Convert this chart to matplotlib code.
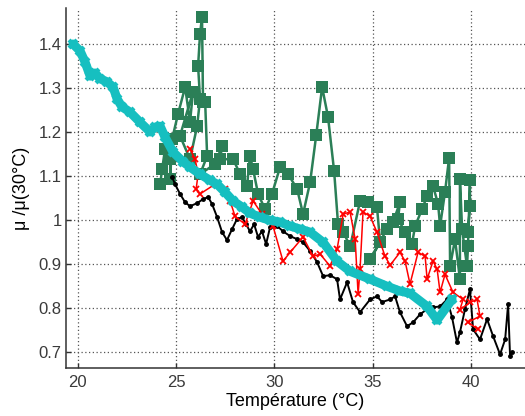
import matplotlib
matplotlib.use("Agg")
import matplotlib.pyplot as plt

plt.rcParams['font.family'] = ['Liberation Sans', 'DejaVu Sans']

# Reference curve (smoothed), μ/μ(30°C) versus temperature
temp_ref = [19.76, 20.12, 20.37, 20.63, 20.88, 21.13, 21.49, 21.80, 22.00, 22.25,
            22.66, 23.17, 23.68, 23.93, 24.19, 24.44, 24.85, 25.36, 25.71, 26.22,
            26.73, 27.09, 27.49, 27.90, 28.36, 28.77, 29.27, 29.78, 30.29, 30.80,
            31.31, 31.82, 32.48, 33.19, 33.85, 34.87, 35.73, 36.39, 36.90, 37.77,
            38.28, 39.04]
mu_ref = [1.400, 1.384, 1.359, 1.327, 1.334, 1.321, 1.314, 1.302, 1.275, 1.257,
          1.245, 1.222, 1.200, 1.211, 1.213, 1.188, 1.154, 1.132, 1.120, 1.104,
          1.090, 1.081, 1.063, 1.043, 1.029, 1.015, 1.006, 0.999, 0.995, 0.986,
          0.979, 0.972, 0.949, 0.906, 0.883, 0.865, 0.849, 0.838, 0.833, 0.803,
          0.772, 0.819]

# Series A (green squares)
temp_a = [24.19, 24.29, 24.44, 24.70, 24.70, 24.80, 25.10, 25.46, 25.71, 25.86,
          25.20, 25.71, 26.07, 26.22, 26.12, 26.22, 26.32, 26.37, 26.48, 26.58,
          26.22, 26.98, 27.34, 27.24, 27.90, 28.26, 28.61, 28.76, 28.92, 29.17,
          29.53, 29.88, 30.29, 30.70, 31.16, 31.46, 31.82, 32.13, 32.43, 32.73,
          33.04, 33.24, 33.50, 33.86, 34.36, 34.77, 35.22, 35.38, 34.87, 35.73,
          36.04, 36.39, 36.29, 36.65, 37.00, 37.16, 37.51, 37.77, 38.07, 38.33,
          38.43, 38.68, 38.89, 38.94, 39.19, 39.44, 39.44, 39.55, 39.80, 39.85,
          39.95, 39.95, 39.85]
mu_a = [1.081, 1.115, 1.161, 1.138, 1.093, 1.184, 1.241, 1.302, 1.223, 1.291,
        1.191, 1.138, 1.213, 1.275, 1.350, 1.423, 1.462, 1.268, 1.268, 1.145,
        1.104, 1.127, 1.168, 1.138, 1.138, 1.104, 1.077, 1.145, 1.115, 1.059,
        1.024, 1.059, 1.120, 1.104, 1.070, 1.013, 1.086, 1.193, 1.302, 1.234,
        1.111, 0.990, 0.972, 0.940, 1.043, 1.040, 1.029, 0.949, 0.910, 0.979,
        0.995, 1.040, 1.002, 0.972, 0.945, 0.986, 1.024, 1.054, 1.077, 1.036,
        0.986, 1.063, 1.141, 0.894, 0.956, 0.865, 1.093, 0.979, 0.894, 0.940,
        1.090, 1.031, 0.972]

# Series B (red crosses)
temp_b = [25.71, 25.97, 26.12, 26.02, 26.22, 26.98, 27.49, 27.75, 28.00, 28.51,
          28.92, 29.37, 29.93, 30.44, 30.80, 31.46, 31.97, 32.33, 32.83, 33.19,
          33.50, 33.85, 34.11, 34.26, 34.36, 34.51, 34.87, 35.22, 35.63, 35.89,
          36.39, 36.65, 36.90, 37.31, 37.67, 37.77, 38.07, 38.28, 38.43, 38.68,
          39.09, 39.60, 39.44, 39.95, 40.31, 40.46, 39.85, 40.36]
mu_b = [1.161, 1.138, 1.104, 1.070, 1.059, 1.081, 1.070, 1.043, 1.008, 0.990,
        1.043, 1.013, 0.986, 0.906, 0.926, 0.961, 0.917, 0.922, 0.895, 0.933,
        1.013, 1.018, 0.956, 0.831, 0.888, 1.018, 1.008, 0.972, 0.917, 0.897,
        0.926, 0.906, 0.854, 0.926, 0.917, 0.865, 0.906, 0.888, 0.835, 0.876,
        0.835, 0.819, 0.796, 0.812, 0.819, 0.781, 0.767, 0.751]

# Series C (black dots)
temp_c = [24.80, 24.95, 25.20, 25.46, 25.71, 26.07, 26.37, 26.63, 26.83, 27.09,
          27.34, 27.59, 27.85, 28.10, 28.36, 28.56, 28.76, 28.97, 29.17, 29.37,
          29.58, 29.78, 30.14, 30.44, 30.80, 31.16, 31.46, 31.82, 32.17, 32.48,
          32.83, 33.19, 33.34, 33.70, 34.00, 34.36, 34.87, 35.22, 35.48, 35.89,
          36.14, 36.39, 36.75, 37.06, 37.41, 37.77, 38.07, 38.43, 38.79, 39.04,
          39.29, 39.44, 39.70, 39.95, 40.11, 40.46, 40.82, 41.13, 41.48, 41.74,
          41.89, 41.99, 42.09]
mu_c = [1.097, 1.081, 1.059, 1.040, 1.031, 1.038, 1.047, 1.052, 1.036, 1.006,
        0.972, 0.954, 0.979, 1.002, 1.006, 0.990, 0.974, 0.990, 0.961, 0.974,
        0.945, 0.983, 0.986, 0.974, 0.963, 0.956, 0.949, 0.929, 0.904, 0.872,
        0.874, 0.865, 0.819, 0.858, 0.813, 0.790, 0.819, 0.826, 0.813, 0.819,
        0.826, 0.790, 0.758, 0.767, 0.785, 0.797, 0.801, 0.803, 0.819, 0.778,
        0.721, 0.744, 0.797, 0.842, 0.751, 0.728, 0.774, 0.735, 0.694, 0.728,
        0.808, 0.690, 0.699]

x_ticks = [20, 25, 30, 35, 40]
y_ticks = [0.7, 0.8, 0.9, 1.0, 1.1, 1.2, 1.3, 1.4]
y_tick_labels = ['0.7', '0.8', '0.9', '1', '1.1', '1.2', '1.3', '1.4']

fig = plt.figure(figsize=(5.25, 4.16), dpi=100)
ax = fig.add_axes([0.1257, 0.1154, 0.8743, 0.8654])

ax.plot(temp_a, mu_a, color='#2B7F57', linestyle='-', marker='s',
        lw=1.8, ms=9, mew=0, zorder=2)
ax.plot(temp_c, mu_c, color='black', linestyle='-', marker='.',
        lw=1.4, ms=5, zorder=3)
ax.plot(temp_b, mu_b, color='red', linestyle='-', marker='x',
        lw=1.1, ms=4.5, mew=1.3, zorder=4)
ax.plot(temp_ref, mu_ref, color='#16BFC0', linestyle='-', marker='x',
        lw=6.5, ms=6, mew=3, solid_joinstyle='round', solid_capstyle='round',
        zorder=5)

ax.set_xlim(19.4, 42.75)
ax.set_ylim(0.663, 1.482)
ax.set_xticks(x_ticks)
ax.set_yticks(y_ticks)
ax.set_yticklabels(y_tick_labels)

ax.grid(True, linestyle=(0, (1, 2)), color='#555555', lw=0.9)
ax.set_axisbelow(True)

for side in ('top', 'right'):
    ax.spines[side].set_visible(False)
for side in ('left', 'bottom'):
    ax.spines[side].set_color('#333333')
    ax.spines[side].set_linewidth(1.1)

ax.tick_params(direction='in', length=3.5, width=1, color='#333333',
               labelsize=12, labelcolor='#3a3a3a')
ax.tick_params(axis='x', pad=5)
ax.tick_params(axis='y', pad=3)

ax.set_xlabel('Température (°C)', fontsize=13, labelpad=2)
ax.set_ylabel('μ /μ(30°C)', fontsize=13, labelpad=6)

fig.savefig('out.png', dpi=100)
